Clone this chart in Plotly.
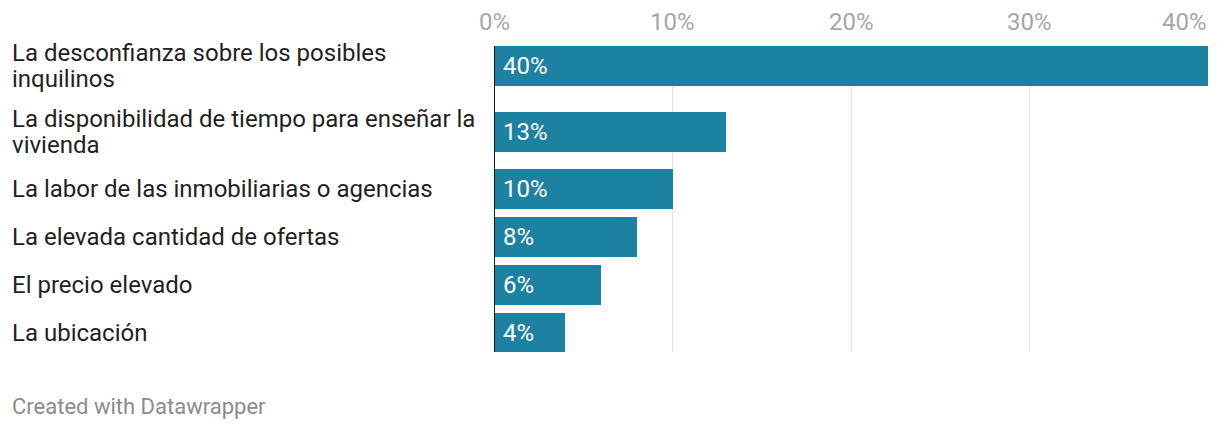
import plotly.graph_objects as go

categories = [
    "La desconfianza sobre los posibles<br>inquilinos",
    "La disponibilidad de tiempo para enseñar la<br>vivienda",
    "La labor de las inmobiliarias o agencias",
    "La elevada cantidad de ofertas",
    "El precio elevado",
    "La ubicación",
]
values = [40, 13, 10, 8, 6, 4]
value_labels = ["40%", "13%", "10%", "8%", "6%", "4%"]
tick_values = [0, 10, 20, 30, 40]
tick_labels = ["0%", "10%", "20%", "30%", "40%"]
footer = "Created with Datawrapper"

# ---- layout constants (pixels) ----
W, H = 1220, 430
ML, MR, MT, MB = 494, 12, 46, 78
PLOT_H = H - MT - MB
BAR_H = 40
BASE_PITCH = 48
EXTRA_HALF = 9      # extra spacing per additional label line on each side
LINE_H = 26.7       # label line height

# y positions derived from the label line counts
label_lines = [c.split("<br>") for c in categories]
lines = [len(l) for l in label_lines]
centers = [BAR_H / 2]
for i in range(1, len(categories)):
    pitch = BASE_PITCH + EXTRA_HALF * (lines[i - 1] - 1) + EXTRA_HALF * (lines[i] - 1)
    centers.append(centers[-1] + pitch)

FONT = "Roboto"
BAR_COLOR = "#1d81a2"

fig = go.Figure()
fig.add_trace(go.Bar(
    x=values, y=centers, orientation="h", width=BAR_H,
    marker=dict(color=BAR_COLOR, line=dict(width=0)),
    hoverinfo="skip",
))

annotations = []
plot_w = W - ML - MR
for parts, yc in zip(label_lines, centers):
    n = len(parts)
    for j, part in enumerate(parts):
        annotations.append(dict(
            text=part, xref="paper", x=(10 - ML) / plot_w, xanchor="left",
            yref="y", y=yc + (j - (n - 1) / 2) * LINE_H, yanchor="middle",
            align="left", showarrow=False,
            font=dict(family=FONT, size=24, color="#1f1f1f"),
        ))
for v, lab, yc in zip(values, value_labels, centers):
    annotations.append(dict(
        text=lab, xref="x", x=0, xanchor="left", xshift=7,
        yref="y", y=yc, yanchor="middle", showarrow=False,
        font=dict(family=FONT, size=24, color="white"),
    ))
for i, (tv, tl) in enumerate(zip(tick_values, tick_labels)):
    last = i == len(tick_values) - 1
    annotations.append(dict(
        text=tl, xref="x", x=tv, xanchor="right" if last else "center",
        xshift=1 if last else 0,
        yref="paper", y=1 + (MT - 21.5) / PLOT_H, yanchor="middle", showarrow=False,
        font=dict(family=FONT, size=24, color="#a6a6a6"),
    ))
annotations.append(dict(
    text=footer, xref="paper", x=(10 - ML) / plot_w, xanchor="left",
    yref="paper", y=-(406 - (H - MB)) / PLOT_H, yanchor="middle", showarrow=False,
    font=dict(family=FONT, size=22, color="#8c8c8c"),
))

fig.update_layout(
    width=W, height=H,
    margin=dict(l=ML, r=MR, t=MT, b=MB, pad=0),
    paper_bgcolor="white", plot_bgcolor="white",
    showlegend=False, bargap=0,
    xaxis=dict(range=[0, 40], tickvals=tick_values, showticklabels=False,
               showgrid=True, gridcolor="#e2e2e2", gridwidth=1,
               zeroline=False, showline=False, fixedrange=True),
    yaxis=dict(range=[PLOT_H, 0], showticklabels=False, showgrid=False,
               zeroline=False, showline=False, fixedrange=True),
    shapes=[dict(type="line", xref="x", x0=0, x1=0, yref="paper", y0=0, y1=1,
                 line=dict(color="#1a1a1a", width=2), layer="above")],
    annotations=annotations,
)

fig.write_html("out.html", config={"displayModeBar": False})
